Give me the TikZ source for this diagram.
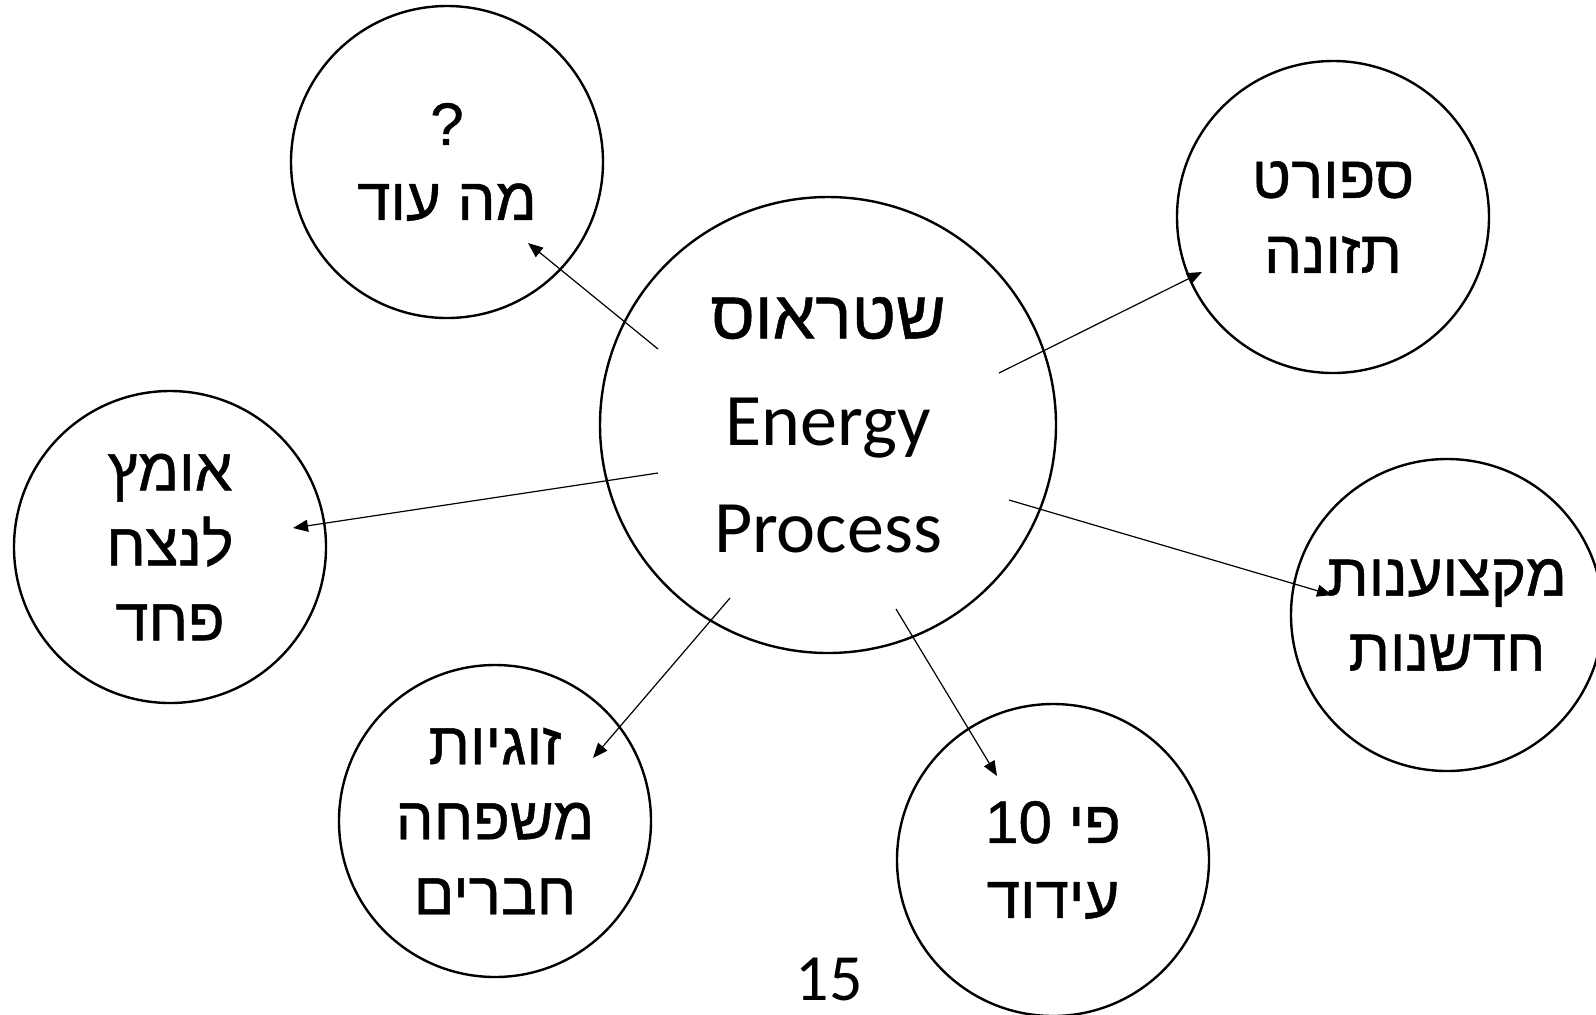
\documentclass[tikz,border=0pt]{standalone}
\usepackage{fontspec}
\setmainfont{Carlito}
\newfontfamily\hebfont[Script=Hebrew, FakeBold=0.8]{Liberation Sans}
\TeXXeTstate=1
\usetikzlibrary{arrows.meta, positioning}

\begin{document}
\begin{tikzpicture}[x=0.5pt, y=-0.5pt,
    bubble/.style={draw, circle, line width=1.2pt, minimum size=156pt, inner sep=0pt, align=center,
        font=\hebfont\fontsize{30}{37.5}\selectfont},
    hub/.style={bubble, minimum size=228pt, font=\fontsize{37}{53.5}\selectfont},
    link/.style={line width=0.6pt, -{Triangle[length=7.5pt, width=6pt]}}]
    \useasboundingbox (0,0) rectangle (1596,1014);

    % Centre
    \node[hub] (hub) at (828,425) {{\hebfont\fontsize{34}{53.5}\selectfont\beginR שטראוס\endR}\\Energy\\Process};

    % Satellites
    \node[bubble] (more) at (447,162) {?\\\beginR מה עוד\endR};
    \node[bubble] (sport) at (1333,217) {\beginR ספורט\endR\\\beginR תזונה\endR};
    \node[bubble] (pro) at (1447,615) {\beginR מקצוענות\endR\\\beginR חדשנות\endR};
    \node[bubble] (cheer) at (1053,860) {\beginR פי \beginL 10\endL\endR\\\beginR עידוד\endR};
    \node[bubble] (courage) at (170,547) {\beginR אומץ\endR\\\beginR לנצח\endR\\\beginR פחד\endR};
    \node[bubble] (family) at (495,821) {\beginR זוגיות\endR\\\beginR משפחה\endR\\\beginR חברים\endR};

    % Page number
    \node[font=\fontsize{33}{40}\selectfont] (page) at (829,979) {15};

    % Arrow ends
    \coordinate (hubMore) at (658,349);    \coordinate (tipMore) at (528,243);
    \coordinate (hubSport) at (999,373);   \coordinate (tipSport) at (1202,272);
    \coordinate (hubCourage) at (658,473); \coordinate (tipCourage) at (293,528);
    \coordinate (hubPro) at (1009,500);    \coordinate (tipPro) at (1332,595);
    \coordinate (hubCheer) at (896,609);   \coordinate (tipCheer) at (997,776);
    \coordinate (hubFamily) at (730,598);  \coordinate (tipFamily) at (593,758);

    \draw[link] (hubMore) -- (tipMore);
    \draw[link] (hubSport) -- (tipSport);
    \draw[link] (hubCourage) -- (tipCourage);
    \draw[link] (hubPro) -- (tipPro);
    \draw[link] (hubCheer) -- (tipCheer);
    \draw[link] (hubFamily) -- (tipFamily);
\end{tikzpicture}
\end{document}
